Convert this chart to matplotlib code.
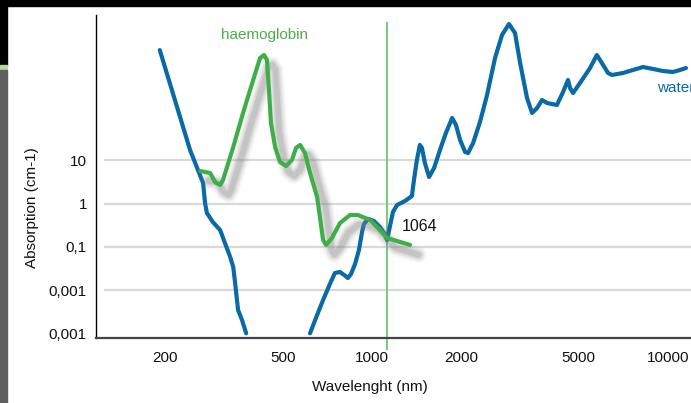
import matplotlib
matplotlib.use("Agg")
import matplotlib.pyplot as plt
from matplotlib import patheffects as pe
from matplotlib.patches import Rectangle

plt.rcParams['font.family'] = ['Liberation Sans', 'DejaVu Sans']

# Water absorption, UV side (nm, cm-1)
water_uv_nm = [192, 243, 269, 273, 277, 290, 307, 332, 340, 345, 353, 364, 376]
water_uv_abs = [3600, 17.5, 3.0, 1.04, 0.61, 0.377, 0.246, 0.0583, 0.0343, 0.0146, 0.00346, 0.00203, 0.001]

# Water absorption, visible / IR side
water_ir_nm = [618, 647, 684, 721, 750, 780, 805, 830, 850, 877,
               904, 926, 940, 971, 1016, 1064, 1099, 1125, 1151, 1178,
               1216, 1294, 1365, 1387, 1419, 1452, 1476, 1510, 1560, 1622,
               1698, 1778, 1867, 1923, 1986, 2065, 2113, 2197, 2318, 2449,
               2606, 2752, 2904, 3044, 3163, 3342, 3476, 3614, 3756, 3908,
               4217, 4424, 4596, 4672, 4780, 5046, 5458, 5754, 6040, 6278,
               6471, 7048, 7621, 8241, 8913, 9616, 10400, 10990, 11510]
water_ir_abs = [0.001, 0.00226, 0.0059, 0.0138, 0.0249, 0.0262, 0.0224, 0.0191, 0.0236, 0.0402,
                0.0848, 0.221, 0.339, 0.443, 0.398, 0.289, 0.210, 0.1445, 0.305, 0.643,
                0.933, 1.155, 1.51, 3.54, 10.3, 22.9, 19.5, 8.75, 4.15, 6.70,
                17.5, 43.4, 96.4, 66.4, 29.8, 15.7, 14.9, 25.4, 77.8, 328,
                2360, 8040, 14450, 8940, 1905, 280, 126, 164, 251, 214,
                193, 385, 730, 477, 365, 622, 1384, 2767, 1626, 1060,
                953, 1060, 1245, 1459, 1312, 1180, 1119, 1245, 1384]

# Haemoglobin absorption
hb_nm = [263, 284, 295, 307, 314, 340, 367, 397, 419, 432,
         442, 449, 456, 471, 489, 513, 537, 554, 572, 594,
         618, 653, 684, 700, 733, 780, 843, 897, 986, 1064,
         1125, 1245, 1346]
hb_abs = [5.71, 5.14, 3.18, 2.71, 3.54, 20.5, 126, 730, 2360, 2767,
          2120, 428, 73.8, 20.5, 9.23, 7.46, 10.3, 19.5, 22.9, 14.9,
          5.14, 1.43, 0.1445, 0.111, 0.161, 0.357, 0.547, 0.547, 0.42, 0.246,
          0.161, 0.13, 0.111]

laser_nm = 1125  # where the 1064 marker line sits in the picture

x_ticks = [200, 500, 1000, 2000, 5000, 10000]
x_labels = ["200", "500", "1000", "2000", "5000", "10000"]
y_ticks = [0.001, 0.01, 0.1, 1, 10]
y_labels = ["0,001", "0,001", "0,1", "1", "10"]

blue = '#0a6aa6'
green = '#3fae49'

fig = plt.figure(figsize=(6.91, 4.03), dpi=100)
fig.patch.set_facecolor('white')

# frame bits from the slide the chart was cut from
W, H = 691, 403
fig.add_artist(Rectangle((0, 1 - 6 / H), 1, 6 / H, transform=fig.transFigure, color='black', zorder=0))
fig.add_artist(Rectangle((0, 1 - 65 / H), 7 / W, 65 / H, transform=fig.transFigure, color='black', zorder=0))
fig.add_artist(Rectangle((0, 1 - 70 / H), 7 / W, 5 / H, transform=fig.transFigure, color='#b7d6a6', zorder=0))
fig.add_artist(Rectangle((0, 0), 7 / W, 1 - 70 / H, transform=fig.transFigure, color='#5e605e', zorder=0))

ax = fig.add_axes([96 / W, 65 / H, 595 / W, 323 / H])
ax.set_facecolor('none')
ax.set_xscale('log')
ax.set_yscale('log')
ax.set_xlim(116.9, 11968)
ax.set_ylim(7.78e-4, 23340)

# grid lines
for v in y_ticks[1:]:
    ax.axhline(v, xmin=0.015, xmax=1, color='#d9d9d9', lw=1.6, zorder=1)

# water
ax.plot(water_uv_nm, water_uv_abs, color=blue, lw=3, solid_capstyle='round',
        solid_joinstyle='round', zorder=3)
ax.plot(water_ir_nm, water_ir_abs, color=blue, lw=3, solid_capstyle='round',
        solid_joinstyle='round', zorder=3)

# haemoglobin with soft shadow
shadow = []
for lw, a in [(12, 0.05), (10, 0.07), (8, 0.1), (6, 0.14), (4, 0.2)]:
    shadow.append(pe.SimpleLineShadow(offset=(6, -7), shadow_color='#808080', alpha=a, linewidth=lw))
shadow.append(pe.Normal())
ax.plot(hb_nm, hb_abs, color=green, lw=3, solid_capstyle='round', solid_joinstyle='round',
        zorder=4, path_effects=shadow)

# 1064 nm line
ax.plot([laser_nm, laser_nm], [0.975, -0.034], transform=ax.get_xaxis_transform(),
        clip_on=False, color='#7fca7f', lw=1.5, zorder=2)

ax.text(435, 8000, "haemoglobin", color='#4cae4c', fontsize=11, ha='center', va='center')
ax.text(9180, 477, "water", color=blue, fontsize=11, ha='left', va='center', clip_on=False)
ax.text(1262, 0.289, "1064", color='#111111', fontsize=11.5, ha='left', va='center')

ax.set_xticks(x_ticks)
ax.set_xticklabels(x_labels)
ax.set_yticks(y_ticks)
ax.set_yticklabels(y_labels)
ax.minorticks_off()
ax.tick_params(axis='both', length=0, labelsize=11, colors='#111111')
ax.tick_params(axis='x', pad=9)
ax.tick_params(axis='y', pad=6.5)

for s in ['top', 'right']:
    ax.spines[s].set_visible(False)
ax.spines['left'].set_color('black')
ax.spines['left'].set_linewidth(1)
ax.spines['bottom'].set_color('#444444')
ax.spines['bottom'].set_linewidth(1.6)

fig.text(370 / W, 1 - 387 / H, "Wavelenght (nm)", fontsize=11, ha='center', va='center', color='#111111')
fig.text(32 / W, 1 - 208 / H, "Absorption (cm-1)", fontsize=11, rotation=90,
         ha='center', va='center', color='#111111')

fig.savefig('out.png', dpi=100)
